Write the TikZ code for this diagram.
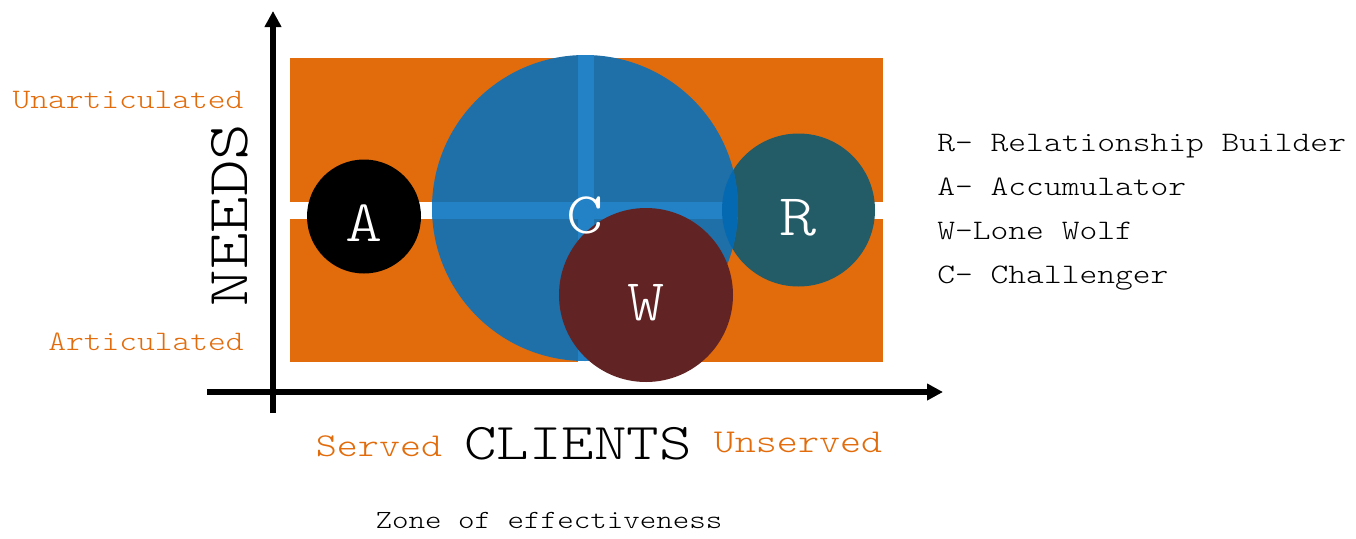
\documentclass[tikz,border=0pt]{standalone}
\usepackage{fontspec}
\usetikzlibrary{arrows.meta,positioning}

\newfontfamily\widemono{lmmonolt10-regular.otf}[FakeStretch=1.2]

\definecolor{zoneorange}{RGB}{226,108,11}
\definecolor{chalblue}{RGB}{31,111,168}
\definecolor{crossblue}{RGB}{35,129,198}
\definecolor{lensblue}{RGB}{5,105,177}
\definecolor{relteal}{RGB}{35,91,103}
\definecolor{wolfred}{RGB}{98,35,36}

% wide typewriter face at a given size
\newcommand{\monosize}[1]{\widemono\fontsize{#1}{#1}\selectfont}

\tikzstyle{bubble}=[circle,inner sep=0pt,text=white,font=\monosize{29.5pt},text height=25pt,text depth=0pt]
\tikzstyle{axis}=[line width=2.7pt,-{Triangle[length=8pt,width=8pt]}]
\tikzstyle{axislabel}=[inner sep=0pt,anchor=base]
\tikzstyle{pole}=[inner sep=0pt,anchor=base,text=zoneorange]
\tikzstyle{legendline}=[inner sep=0pt,anchor=base west,font=\monosize{14.1pt}]

\begin{document}
\begin{tikzpicture}[x=0.5pt,y=0.5pt]
\useasboundingbox (0,0) rectangle (1356,538);

% the four quadrants
\fill[zoneorange] (290,336) rectangle (578,480);
\fill[zoneorange] (594,336) rectangle (883,480);
\fill[zoneorange] (290,176) rectangle (578,319);
\fill[zoneorange] (594,176) rectangle (883,319);

% axes
\coordinate (ybot) at (273,125);
\coordinate (ytop) at (273,527);
\coordinate (xleft) at (207,146);
\coordinate (xright) at (943,146);
\draw[axis] (ybot) -- (ytop);
\draw[axis] (xleft) -- (xright);

% bubbles
\node[bubble,fill=relteal,minimum size=76.5pt] (rel) at (798.5,328) {R};
\node[bubble,fill=chalblue,minimum size=153pt,
  path picture={
    \fill[crossblue] ([xshift=-3.65pt]path picture bounding box.north) rectangle ([xshift=4.65pt]path picture bounding box.south);
    \fill[crossblue] ([yshift=-5.5pt]path picture bounding box.west) rectangle ([yshift=2.8pt]path picture bounding box.east);
  }] (chal) at (585,330) {};
\begin{scope}
\clip (chal.center) circle (153);
\fill[lensblue] (rel.center) circle (76.5);
\end{scope}
\node[bubble,fill=wolfred,minimum size=87pt] (wolf) at (646,243) {W};
\node[bubble,fill=black,minimum size=57pt] (acc) at (364,321.5) {A};
%% letter of the big bubble sits over W
\node[bubble] (chaltag) at (chal) {C};

% axis names and ends
\node[axislabel,rotate=90,font=\monosize{29pt}] (needs) at (247,323) {NEEDS};
\node[axislabel,font=\monosize{25.8pt}] (clients) at (578,79) {CLIENTS};
\node[pole,font=\monosize{14.1pt}] (unart) at (128,430) {Unarticulated};
\node[pole,font=\monosize{14.1pt}] (art) at (146,188) {Articulated};
\node[pole,font=\monosize{16.7pt}] (served) at (379,81.3) {Served};
\node[pole,font=\monosize{16.7pt}] (unserved) at (798,85.3) {Unserved};
\node[axislabel,font=\monosize{13.1pt}] (zone) at (549,10) {Zone of effectiveness};

% key
\node[legendline] (keyr) at (937,386.3) {R- Relationship Builder};
\node[legendline] (keya) at (937,342.5) {A- Accumulator};
\node[legendline] (keyw) at (937,298.5) {W-Lone Wolf};
\node[legendline] (keyc) at (937,255) {C- Challenger};
\end{tikzpicture}
\end{document}
